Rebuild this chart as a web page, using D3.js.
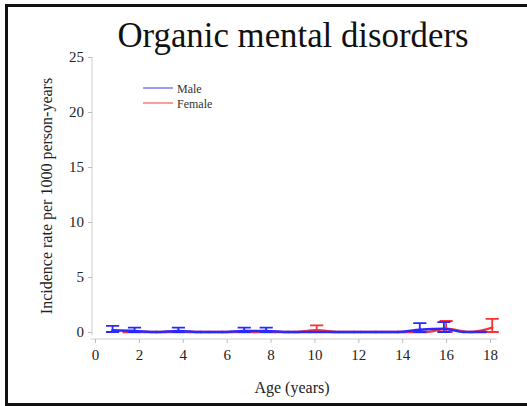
<!DOCTYPE html>
<html>
<head>
<meta charset="utf-8">
<script src="https://cdn.jsdelivr.net/npm/d3@7"></script>
<style>
  html, body { margin: 0; padding: 0; background: #fff; overflow: hidden; }
  svg { display: block; }
</style>
</head>
<body>
<svg id="chart" width="527" height="406"></svg>
<script>
// Incidence of organic mental disorders by age, per sex (rate and upper 95% limit)
const maleAge   = [0.8, 1.8, 2.8, 3.8, 4.8, 5.8, 6.8, 7.8, 8.8, 9.8, 10.8, 11.8, 12.8, 13.8, 14.8, 15.9, 16.8, 17.8];
const maleRate  = [0.15, 0.1, 0, 0.1, 0, 0, 0.1, 0.1, 0, 0, 0, 0, 0, 0, 0.2, 0.3, 0, 0];
const maleUpper = [0.55, 0.4, 0, 0.4, 0, 0, 0.4, 0.4, 0, 0, 0, 0, 0, 0, 0.8, 0.9, 0, 0];

const femaleAge   = [1.3, 2.3, 3.2, 4.3, 5.2, 6.2, 7.2, 8.2, 9.1, 10.1, 11.1, 12.1, 13.1, 14.1, 15.1, 16.0, 17.1, 18.1];
const femaleRate  = [0, 0, 0, 0, 0, 0, 0, 0, 0, 0.15, 0, 0, 0, 0, 0, 0.3, 0, 0.4];
const femaleUpper = [0, 0, 0, 0, 0, 0, 0, 0, 0, 0.6, 0, 0, 0, 0, 0, 1.0, 0, 1.2];

const xTicks = [0, 2, 4, 6, 8, 10, 12, 14, 16, 18];
const yTicks = [0, 5, 10, 15, 20, 25];

const svg = d3.select("#chart");
const serif = "'Liberation Serif', 'Times New Roman', serif";

// outer frame: left, top and bottom edges only (the right edge is cut off)
svg.append("path")
  .attr("d", "M527,5.5H6.5V404.5H527")
  .attr("fill", "none").attr("stroke", "#111").attr("stroke-width", 3);

const x = d3.scaleLinear().domain([0, 18]).range([95, 490]);
const y = d3.scaleLinear().domain([0, 25]).range([332, 57]);

// title
svg.append("text")
  .attr("x", 293).attr("y", 47)
  .attr("text-anchor", "middle")
  .attr("font-family", serif).attr("font-size", 34.8)
  .attr("fill", "#111")
  .text("Organic mental disorders");

// axes
const xAxis = svg.append("g")
  .attr("transform", "translate(0,339)")
  .call(d3.axisBottom(x).tickValues(xTicks).tickSize(4).tickPadding(6).tickSizeOuter(0));
const yAxis = svg.append("g")
  .attr("transform", "translate(92,0)")
  .call(d3.axisLeft(y).tickValues(yTicks).tickSize(4).tickPadding(4).tickSizeOuter(0));

[xAxis, yAxis].forEach(g => {
  g.attr("font-family", serif);
  g.select(".domain").attr("stroke", "#ccc");
  g.selectAll(".tick line").attr("stroke", "#bbb");
  g.selectAll(".tick text")
    .attr("font-family", serif).attr("font-size", 15).attr("fill", "#222");
});
// extend axis lines a bit past the data range
xAxis.select(".domain").attr("d", `M${x(-0.2)},0H${x(18.3)}`);
yAxis.select(".domain").attr("d", `M0,${y(-0.3)}V${y(25)}`);

// axis titles
svg.append("text")
  .attr("x", 292).attr("y", 393)
  .attr("text-anchor", "middle")
  .attr("font-family", serif).attr("font-size", 16).attr("fill", "#222")
  .text("Age (years)");
svg.append("text")
  .attr("transform", "translate(52,196) rotate(-90)")
  .attr("text-anchor", "middle")
  .attr("font-family", serif).attr("font-size", 16).attr("fill", "#222")
  .text("Incidence rate per 1000 person-years");

const series = [
  { name: "Female", color: "#ff3030", age: femaleAge, rate: femaleRate, upper: femaleUpper },
  { name: "Male", color: "#2a2aff", age: maleAge, rate: maleRate, upper: maleUpper }
];

const line = d3.line()
  .x(d => x(d.age)).y(d => y(d.rate))
  .curve(d3.curveMonotoneX);

series.forEach(s => {
  const pts = s.age.map((a, i) => ({ age: a, rate: s.rate[i], upper: s.upper[i] }));
  const g = svg.append("g");
  g.append("path")
    .datum(pts)
    .attr("d", line)
    .attr("fill", "none")
    .attr("stroke", s.color)
    .attr("stroke-width", 2.5);
  // error bars with caps
  const eb = pts.filter(d => d.upper > 0);
  const cap = x(0.3) - x(0);
  eb.forEach(d => {
    const cx = x(d.age);
    g.append("path")
      .attr("d", `M${cx},${y(0)}V${y(d.upper)}M${cx - cap},${y(d.upper)}H${cx + cap}M${cx - cap},${y(0)}H${cx + cap}`)
      .attr("fill", "none")
      .attr("stroke", s.color)
      .attr("stroke-width", 1.8);
  });
  g.selectAll("circle")
    .data(pts)
    .join("circle")
    .attr("cx", d => x(d.age)).attr("cy", d => y(d.rate))
    .attr("r", 1.3)
    .attr("fill", s.color);
});

// legend
const legend = [
  { name: "Male", color: "#7a7aff" },
  { name: "Female", color: "#ff7a7a" }
];
legend.forEach((l, i) => {
  const ly = 88 + i * 15;
  svg.append("line")
    .attr("x1", 143).attr("x2", 173)
    .attr("y1", ly).attr("y2", ly)
    .attr("stroke", l.color).attr("stroke-width", 1.5);
  svg.append("text")
    .attr("x", 177).attr("y", ly + 4.5)
    .attr("font-family", serif).attr("font-size", 12).attr("fill", "#333")
    .text(l.name);
});
</script>
</body>
</html>
